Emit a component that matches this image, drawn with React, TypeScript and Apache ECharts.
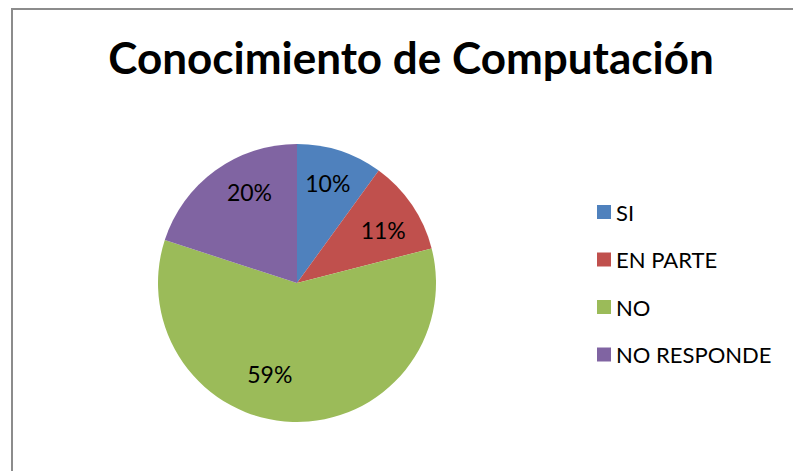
import React, { useEffect, useRef } from "react";
import * as echarts from "echarts";

const categories = ["SI", "EN PARTE", "NO", "NO RESPONDE"];
const values = [10, 11, 59, 20];
const colors = ["#4F81BD", "#C0504D", "#9BBB59", "#8064A2"];
const title = "Conocimiento de Computación";
const labelOffsets = [
  [-1, -2],
  [1, 5],
  [-24, -12],
  [13, -8],
];

export default function App() {
  const ref = useRef<HTMLDivElement>(null);
  useEffect(() => {
    if (!ref.current) return;
    const chart = echarts.init(ref.current, null, { renderer: "svg" });
    const data = categories.map((name, i) => ({ name, value: values[i], itemStyle: { color: colors[i] } }));
    const font = "Lato, 'Open Sans', sans-serif";
    chart.setOption({
      animation: false,
      backgroundColor: "#fff",
      title: {
        text: title,
        left: 406,
        top: 30,
        textAlign: "center",
        textStyle: { fontFamily: font, fontWeight: "bold", fontSize: 44, color: "#000" },
      },
      legend: {
        orient: "vertical",
        left: 597,
        top: 201,
        padding: 0,
        icon: "rect",
        itemWidth: 14,
        itemHeight: 14,
        itemGap: 25.5,
        data: categories,
        textStyle: { fontFamily: font, fontSize: 22, color: "#000", lineHeight: 22 },
        selectedMode: false,
      },
      graphic: [
        {
          type: "rect",
          shape: { x: 12, y: 9, width: 900, height: 600 },
          style: { fill: "none", stroke: "#8c8c8c", lineWidth: 2 },
          silent: true,
        },
      ],
      series: [
        {
          type: "pie",
          center: [297, 283],
          radius: 139,
          startAngle: 90,
          clockwise: true,
          label: { show: false },
          labelLine: { show: false },
          data,
          silent: true,
        },
        {
          type: "pie",
          center: [297, 283],
          radius: [61, 139],
          startAngle: 90,
          clockwise: true,
          itemStyle: { color: "transparent" },
          label: {
            show: true,
            position: "inside",
            formatter: (p: any) => Math.round(p.percent) + "%",
            fontFamily: font,
            fontSize: 23,
            color: "#000",
          },
          labelLine: { show: false },
          legendHoverLink: false,
          data: categories.map((name, i) => ({
            name: name + "_l",
            value: values[i],
            itemStyle: { color: "transparent" },
            label: { offset: labelOffsets[i] },
          })),
          silent: true,
        },
      ],
    });
    return () => chart.dispose();
  }, []);
  return <div ref={ref} style={{ position: "fixed", left: 0, top: 0, width: 793, height: 471 }} />;
}
